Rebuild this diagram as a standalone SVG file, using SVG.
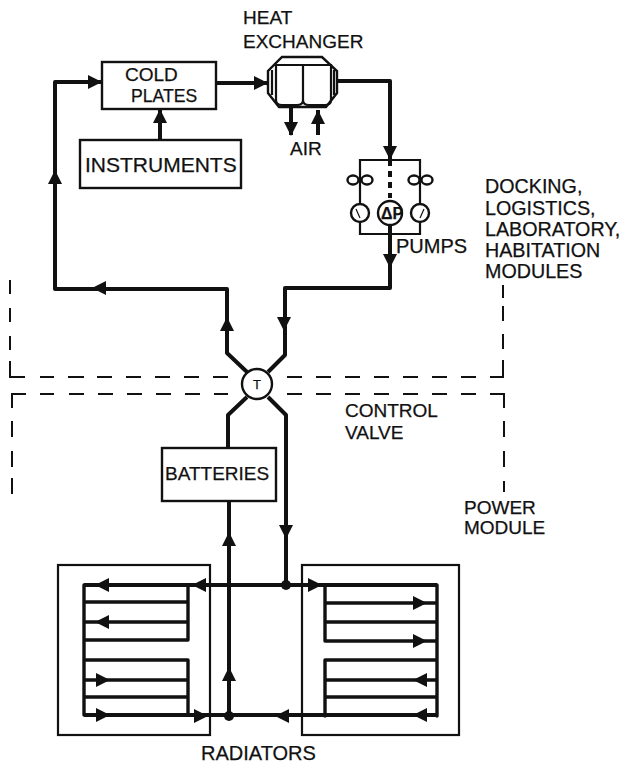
<svg xmlns="http://www.w3.org/2000/svg" width="625" height="765" viewBox="0 0 625 765">
<style>
text{font-family:"Liberation Sans",Arial,sans-serif;font-size:19px;fill:#111;stroke:#111;stroke-width:.25}
.w{font-size:19.7px}
.box{fill:#fff;stroke:#111;stroke-width:2.4}
.thin{fill:none;stroke:#111;stroke-width:2.2}
.pipe{fill:none;stroke:#111;stroke-width:4;stroke-linejoin:round}
.rad{fill:none;stroke:#111;stroke-width:3.4;stroke-linejoin:round;stroke-linecap:round}
.dash{fill:none;stroke:#111;stroke-width:2}
.head{fill:#111}
</style>
<defs>
<path id="a" class="head" d="M0 0L-14 -7L-14 7Z"/>
</defs>
<rect width="625" height="765" fill="#fff"/>
<g id="boundaries">
<path class="dash" d="M10 280V294M10 308V322M10 336V350M10 361V377H25M40 377H54M68 377H84M97 377H112M126 377H141M155 377H170M184 377H199M213 377H228M287 377H302M316 377H331M345 377H360M374 377H389M403 377H418M432 377H447M461 377H476M490 377H503V360M503 349V334M503 321V306M503 298V285"/>
<path class="dash" d="M12 494V478M12 467V451M12 437V421M12 408V394H26M40 394H54M69 394H84M98 394H113M127 394H142M156 394H171M185 394H200M214 394H228M287 394H302M316 394H331M345 394H360M374 394H389M403 394H418M432 394H447M461 394H476M490 394H504V408M504 421V437M504 451V467M504 481V492"/>
</g>
<g id="radiator-left">
<rect class="thin" x="58" y="565" width="152" height="170"/>
<path class="rad" d="M84 585V715M84 602H188M84 622H188M84 640H188V585M84 660H188V715M84 680H188M84 697H188"/>
</g>
<g id="radiator-right">
<rect class="thin" x="302" y="565" width="157" height="170"/>
<path class="rad" d="M437 585V716M325 603H437M325 622H437M325 641H437M325 585V641M325 660H437M325 680H437M325 697H437M325 660V716"/>
</g>
<g id="connectors">
<path class="pipe" d="M102 82H55V289H227V353L247 372"/>
<path class="pipe" d="M216 83H268"/>
<path class="pipe" d="M160 140V109"/>
<path class="pipe" d="M337 81H390V160"/>
<path class="pipe" d="M291 107V135"/>
<path class="pipe" d="M318 135V110"/>
<path class="pipe" d="M390 234V288H285V355L268 372"/>
<path class="pipe" d="M247 397L228 415V448"/>
<path class="pipe" d="M268 397L286 415V585"/>
<path class="pipe" d="M229 501V716"/>
<path class="pipe" d="M84 585H437"/>
<path class="pipe" d="M84 715H437"/>
<circle class="head" cx="229" cy="716" r="5"/>
<circle class="head" cx="286" cy="585" r="5"/>
<use href="#a" transform="translate(102 82)"/>
<use href="#a" transform="translate(268 83)"/>
<use href="#a" transform="translate(160 109) rotate(-90)"/>
<use href="#a" transform="translate(291 136) rotate(90)"/>
<use href="#a" transform="translate(318 110) rotate(-90)"/>
<use href="#a" transform="translate(390 160) rotate(90)"/>
<use href="#a" transform="translate(390 268) rotate(90)"/>
<use href="#a" transform="translate(55 170) rotate(-90)"/>
<use href="#a" transform="translate(92 288) rotate(180)"/>
<use href="#a" transform="translate(227 317) rotate(-90)"/>
<use href="#a" transform="translate(284 331) rotate(90)"/>
<use href="#a" transform="translate(229 532) rotate(-90)"/>
<use href="#a" transform="translate(286 539) rotate(90)"/>
<use href="#a" transform="translate(229 667) rotate(-90)"/>
<use href="#a" transform="translate(95 585) rotate(180)"/>
<use href="#a" transform="translate(192 585) rotate(180)"/>
<use href="#a" transform="translate(95 622) rotate(180)"/>
<use href="#a" transform="translate(110 680)"/>
<use href="#a" transform="translate(110 715)"/>
<use href="#a" transform="translate(208 716)"/>
<use href="#a" transform="translate(322 585)"/>
<use href="#a" transform="translate(427 603)"/>
<use href="#a" transform="translate(427 641)"/>
<use href="#a" transform="translate(413 680) rotate(180)"/>
<use href="#a" transform="translate(413 715) rotate(180)"/>
<use href="#a" transform="translate(275 716) rotate(180)"/>
</g>
<g id="cold-plates">
<rect class="box" x="102" y="62" width="114" height="47"/>
<text x="125" y="81">COLD</text>
<text x="131" y="102" style="font-size:17.6px">PLATES</text>
</g>
<g id="instruments">
<rect class="box" x="80" y="140" width="161" height="48"/>
<text x="85" y="172" style="font-size:21px">INSTRUMENTS</text>
</g>
<g id="heat-exchanger">
<path class="box" d="M282 57H322L337 71V93L326 107H279L268 93V71Z"/>
<path class="thin" d="M276 65H331V100Q331 105 325 105H309Q303 105 303 100V65M303 100Q303 105 297 105H282Q276 105 276 100V65"/>
<path class="thin" d="M272 70V95M334 70V95"/>
<text x="243" y="24">HEAT</text>
<text x="243" y="48">EXCHANGER</text>
<text x="290" y="155">AIR</text>
</g>
<g id="pumps">
<path class="thin" d="M360 204V160H420V204M360 222V234H420V222"/>
<path d="M390 160V198" fill="none" stroke="#111" stroke-width="4" stroke-dasharray="6 5"/>
<path class="pipe" d="M390 225V234"/>
<circle class="box" cx="360" cy="213" r="9"/>
<circle class="box" cx="420" cy="213" r="9"/>
<circle class="box" cx="390" cy="213" r="12"/>
<path d="M356 209L360 218M424 209L420 218" fill="none" stroke="#111" stroke-width="1.2"/>
<ellipse class="box" cx="353" cy="180" rx="5.5" ry="4.5"/>
<ellipse class="box" cx="367" cy="180" rx="5.5" ry="4.5"/>
<ellipse class="box" cx="414" cy="180" rx="5.5" ry="4.5"/>
<ellipse class="box" cx="427" cy="180" rx="5.5" ry="4.5"/>
<text x="381" y="219" style="font-size:16px;font-weight:bold">ΔP</text>
<text x="396" y="253" style="font-size:20px">PUMPS</text>
</g>
<g id="control-valve">
<circle class="box" cx="257" cy="384" r="15"/>
<text x="257" y="389" text-anchor="middle" style="font-size:13px">T</text>
<text x="345" y="417">CONTROL</text>
<text x="345" y="439">VALVE</text>
</g>
<g id="batteries">
<rect class="box" x="162" y="448" width="114" height="53"/>
<text x="165" y="480">BATTERIES</text>
</g>
<g id="labels">
<text class="w" x="485" y="193">DOCKING,</text>
<text class="w" x="485" y="215">LOGISTICS,</text>
<text class="w" x="485" y="236">LABORATORY,</text>
<text class="w" x="485" y="257">HABITATION</text>
<text class="w" x="485" y="278">MODULES</text>
<text x="464" y="514">POWER</text>
<text x="464" y="534">MODULE</text>
<text x="201" y="760" style="font-size:20px">RADIATORS</text>
</g>
</svg>
